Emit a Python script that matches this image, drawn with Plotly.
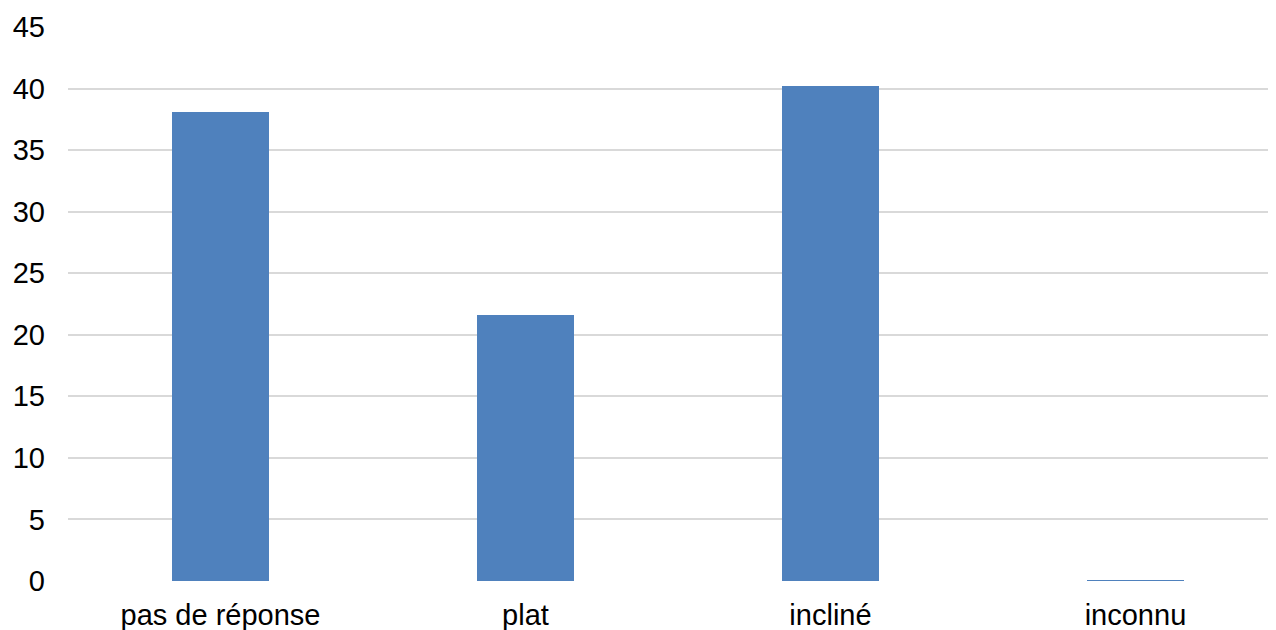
import plotly.graph_objects as go

categories = ["pas de réponse", "plat", "incliné", "inconnu"]
values = [38.1, 21.6, 40.2, 0.05]
y_ticks = [0, 5, 10, 15, 20, 25, 30, 35, 40, 45]

fig = go.Figure()
fig.add_trace(go.Bar(
    x=list(range(len(categories))),
    y=values,
    width=0.315,
    marker=dict(color="#4f81bd", line=dict(width=0)),
))

font = dict(family="Liberation Sans, Arial, sans-serif", size=29, color="#000000")

fig.update_layout(
    width=1276, height=630,
    margin=dict(l=60, r=0, t=19, b=57),
    paper_bgcolor="white", plot_bgcolor="white",
    showlegend=False,
    font=font,
    bargap=0,
    xaxis=dict(
        tickmode="array",
        tickvals=list(range(len(categories))),
        ticktext=categories,
        range=[-0.5, 3.487],
        showgrid=False,
        zeroline=False,
        showline=False,
        ticks="",
        ticklabelstandoff=14,
        tickfont=font,
        automargin=False,
    ),
    yaxis=dict(
        range=[0, 45],
        tickvals=y_ticks,
        showgrid=True,
        gridcolor="#d9d9d9",
        gridwidth=2,
        zeroline=False,
        showline=False,
        ticks="",
        ticklabelstandoff=22,
        tickfont=font,
        automargin=False,
    ),
)

fig.write_html("out.html")
